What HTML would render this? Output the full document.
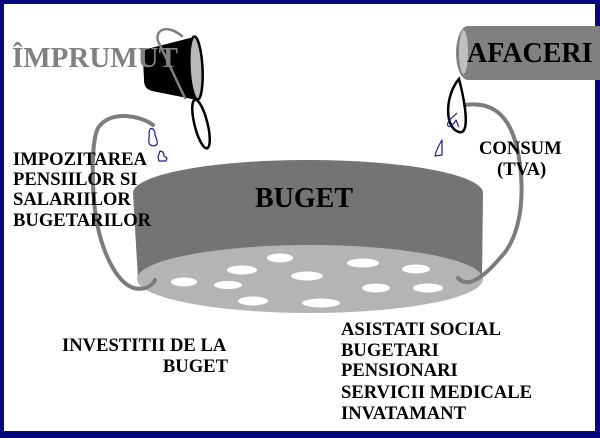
<!DOCTYPE html>
<html>
<head>
<meta charset="utf-8">
<style>
html,body{margin:0;padding:0;background:#fff;}
body{width:600px;height:438px;overflow:hidden;}
svg{display:block;}
text{font-family:"Liberation Serif","DejaVu Serif",serif;font-weight:bold;}
</style>
</head>
<body>
<svg width="600" height="438" viewBox="0 0 600 438" xmlns="http://www.w3.org/2000/svg">
  <!-- background / frame -->
  <rect x="0" y="0" width="600" height="438" fill="#06067f"/>
  <rect x="4" y="4" width="591" height="427" fill="#ffffff"/>

  <!-- AFACERI pipe -->
  <path d="M468,26 L600,26 L600,80 L468,80 A12,27 0 0 1 468,26 Z" fill="#808080"/>
  <ellipse cx="463.5" cy="52" rx="4.5" ry="22" fill="#c0c0c0"/>
  <text x="467" y="62" font-size="28" fill="#000">AFACERI</text>

  <!-- cylinder BUGET -->
  <path d="M133,193 A175,33 0 0 1 483,193 L482,279 L138,279 Z" fill="#747474"/>
  <ellipse cx="310" cy="279" rx="173" ry="34" fill="#b4b4b4"/>
  <g fill="#ffffff">
    <ellipse cx="280" cy="258" rx="13" ry="4.5"/>
    <ellipse cx="363" cy="263" rx="16" ry="4.5"/>
    <ellipse cx="416" cy="269" rx="14" ry="4.5"/>
    <ellipse cx="242" cy="270" rx="15" ry="4.5"/>
    <ellipse cx="307" cy="276" rx="16" ry="4.5"/>
    <ellipse cx="184" cy="282" rx="13" ry="4.5"/>
    <ellipse cx="228" cy="285" rx="14" ry="4"/>
    <ellipse cx="376" cy="288" rx="14" ry="4.5"/>
    <ellipse cx="428" cy="288" rx="15" ry="4.5"/>
    <ellipse cx="253" cy="301" rx="15" ry="4.5"/>
    <ellipse cx="321" cy="303" rx="19" ry="4.5"/>
  </g>
  <text x="255" y="207" font-size="28" fill="#000">BUGET</text>

  <!-- handles of cylinder -->
  <path d="M153,125 C140,115 110,110 98,128 C90,145 92,200 98,228 C104,255 115,275 125,283 C135,292 150,290 155,280" fill="none" stroke="#7c7c7c" stroke-width="4" stroke-linecap="round"/>
  <path d="M465,105 C500,100 515,125 520,165 C525,205 518,240 500,258 C490,270 480,279 470,282 Q462,283 458,278" fill="none" stroke="#7c7c7c" stroke-width="4" stroke-linecap="round"/>

  <!-- bucket -->
  <path d="M147,49 L194,37 L197,100 L152,91 Q144,89 144,80 L143,58 Q143,50 147,49 Z" fill="#000"/>
  <ellipse cx="196" cy="68" rx="6.5" ry="31.5" fill="#b8b8b8" stroke="#000" stroke-width="2.5" transform="rotate(-3 196 68)"/>
  <ellipse cx="201" cy="124" rx="6.5" ry="25" fill="none" stroke="#000" stroke-width="2.5" transform="rotate(-14 201 124)"/>
  <text x="12" y="67" font-size="29" fill="#808080">ÎMPRUMUT</text>
  <path d="M185,98 L158,41 C155,31 165,23 182,36" fill="none" stroke="#808080" stroke-width="2.5" stroke-linecap="round"/>

  <!-- pipe drip loop -->
  <path d="M459,79 C445,95 444,128 459,132 C469,135 467,110 459,79 Z" fill="none" stroke="#000" stroke-width="2.5"/>

  <!-- blue drops -->
  <g fill="none" stroke="#1c1c9c" stroke-width="1.2" stroke-linejoin="round">
    <path d="M150,129 C153,127 155,131 155,135 C156,138 158,141 157,144 C155,147 150,146 149,143 C148,139 150,137 149,133 Z"/>
    <path d="M160,151 L163,152 L164,156 L167,158 L166,161 L159,161 L158,157 Z"/>
    <path d="M457,113 C452,118 446,122 448,126 C450,128 454,124 456,120 C457,122 458,126 459,127"/>
    <path d="M442,140 C439,145 436,151 435,156 L442,155 C442,150 442,145 442,140 Z"/>
  </g>

  <!-- labels -->
  <g font-size="18.6" fill="#000">
    <text x="13" y="165">IMPOZITAREA</text>
    <text x="13" y="185">PENSIILOR SI</text>
    <text x="13" y="205">SALARIILOR</text>
    <text x="13" y="226">BUGETARILOR</text>

    <text x="479" y="154">CONSUM</text>
    <text x="497" y="175">(TVA)</text>

    <text x="62" y="351">INVESTITII DE LA</text>
    <text x="228" y="372" text-anchor="end">BUGET</text>

    <text x="341" y="335">ASISTATI SOCIAL</text>
    <text x="341" y="356">BUGETARI</text>
    <text x="341" y="376">PENSIONARI</text>
    <text x="341" y="398">SERVICII MEDICALE</text>
    <text x="341" y="419">INVATAMANT</text>
  </g>
</svg>
</body>
</html>
